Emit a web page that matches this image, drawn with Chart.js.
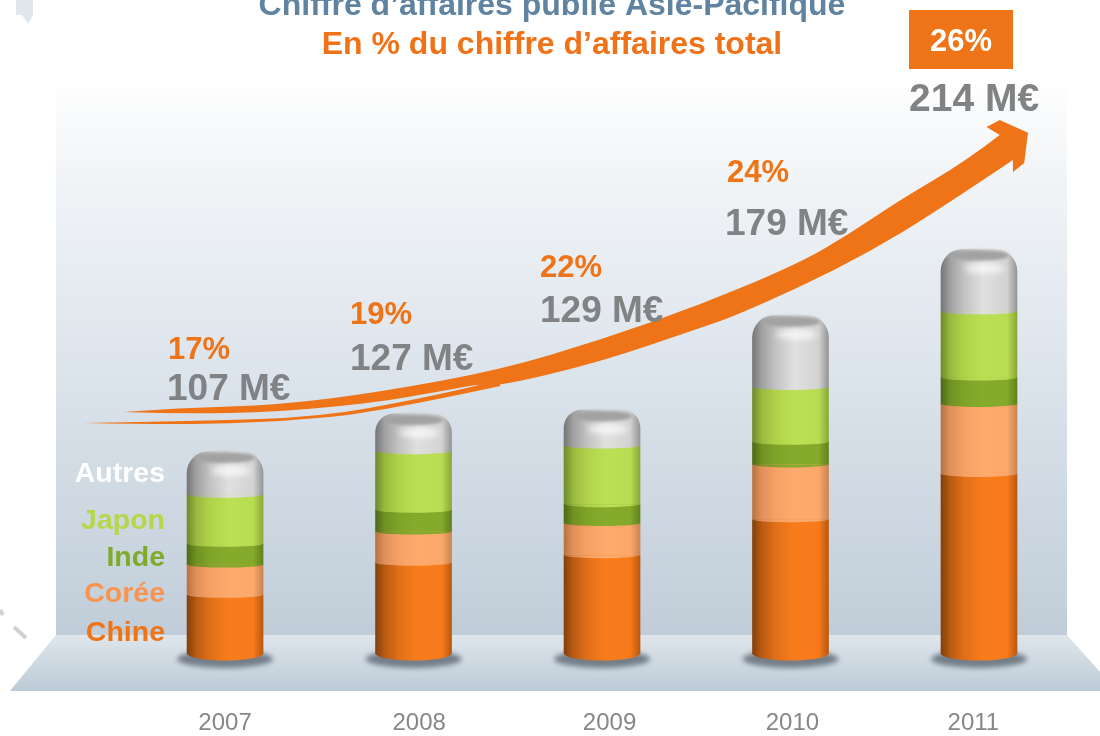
<!DOCTYPE html>
<html lang="fr">
<head>
<meta charset="utf-8">
<title>Chiffre d'affaires publié Asie-Pacifique</title>
<script src="https://cdn.jsdelivr.net/npm/chart.js@4"></script>
<style>
    html, body { margin: 0; padding: 0; background: #fff; overflow: hidden; }
    canvas { display: block; }
</style>
</head>
<body>
<canvas id="chart" width="1100" height="736"></canvas>
<script>
// Valeurs (M€)
const years = [2007, 2008, 2009, 2010, 2011];
const chine = [31, 48, 52, 71, 95];
const coree = [16, 16.5, 17, 29, 37];
const inde = [11, 11.5, 10, 12, 14];
const japon = [26, 31, 31, 29, 35];
const autres = [23, 20, 19, 38, 33];

const percentLabels = ['17%', '19%', '22%', '24%', '26%'];
const totalLabels = ['107 M€', '127 M€', '129 M€', '179 M€', '214 M€'];
const seriesNames = ['Chine', 'Corée', 'Inde', 'Japon', 'Autres'];
const tickYears = [2007, 2008.03, 2009.04, 2010.01, 2010.97];
const tickLabels = ['2007', '2008', '2009', '2010', '2011'];

// Contour de la flèche, en années / M€
const arrowX = [2006.46, 2006.76, 2007.29, 2007.82, 2008.46, 2008.99, 2009.52, 2010.05, 2010.32, 2010.58, 2010.94, 2011.11,
    2011.04, 2011.11, 2011.26, 2011.24, 2011.18, 2011.18,
    2010.76, 2010.41, 2010.05, 2009.69, 2009.52, 2008.99, 2008.46, 2008.35, 2008.18, 2007.82, 2007.29, 2006.76];
const arrowY = [128, 130.2, 131.7, 138.6, 150.3, 166.1, 184.7, 206.9, 222.8, 240.2, 261.4, 274.6,
    278.8, 282.5, 275.7, 259.8, 255, 261.4,
    233.3, 212.2, 194.2, 178.3, 172.5, 154.5, 141.8, 142.9, 139.7, 133.3, 128, 127];
const strandX = [2006.25, 2006.87, 2007.5, 2008, 2008.35, 2008.46, 2008.46, 2007.82, 2007.29, 2006.76];
const strandY = [122.2, 123.3, 125.4, 134.4, 142.3, 145, 141.8, 128, 122.8, 121.2];

const FONT = '"Liberation Sans", Arial, sans-serif';
const ORANGE = '#ee7417';
const GREY = '#808284';
const BAR_WIDTH = 76;

const gradients = {
    Chine: ['#84400b', '#b85a12', '#e06f18', '#f97c1c', '#f77a1b', '#b9590f'],
    'Corée': ['#b8733e', '#e0905a', '#f6a065', '#fdaa6d', '#fca86a', '#cb8450'],
    Inde: ['#4e6a16', '#6f9122', '#7fa328', '#86ab2c', '#84a92b', '#62821c'],
    Japon: ['#6f8a2e', '#98b93e', '#b0d24a', '#bbe054', '#b9dd52', '#8aa838'],
    Autres: ['#767676', '#a0a0a0', '#c2c2c2', '#e0e0e0', '#d2d2d2', '#959595']
};

function barFill(name) {
    return function(context) {
        const stops = gradients[name];
        if (context.dataIndex === undefined) return stops[3];
        const chart = context.chart;
        const cx = chart.scales.x.getPixelForValue(years[context.dataIndex]);
        // les échelles ne sont pas encore placées au premier passage
        if (!Number.isFinite(cx)) return stops[3];
        const g = chart.ctx.createLinearGradient(cx - BAR_WIDTH / 2, 0, cx + BAR_WIDTH / 2, 0);
        [0, 0.12, 0.3, 0.55, 0.87, 1].forEach((p, i) => g.addColorStop(p, stops[i]));
        return g;
    };
}

function barDataset(name, values) {
    return {
        type: 'bar',
        label: name,
        stack: 'total',
        data: values.map((v, i) => ({ x: years[i], y: v })),
        backgroundColor: barFill(name),
        borderWidth: 0,
        barThickness: BAR_WIDTH,
        borderRadius: name === 'Autres' ? { topLeft: 22, topRight: 22, bottomLeft: 0, bottomRight: 0 } : 0,
        order: 2
    };
}

// sharp : indices des points anguleux du contour
function outlineDataset(name, xs, ys, sharp) {
    return {
        type: 'line',
        label: name,
        data: xs.map((x, i) => ({ x: x, y: ys[i] })),
        sharp: sharp,
        borderColor: ORANGE,
        borderWidth: 0,
        pointRadius: 0,
        fill: false,
        clip: false,
        order: 1
    };
}

// Fond : mur et sol
const backdropPlugin = {
    id: 'backdrop',
    beforeDraw(chart) {
        const ctx = chart.ctx;
        ctx.save();
        ctx.fillStyle = '#fff';
        ctx.fillRect(0, 0, 1100, 736);

        const wall = ctx.createLinearGradient(0, 75, 0, 636);
        wall.addColorStop(0, '#ffffff');
        wall.addColorStop(0.2, '#f0f3f6');
        wall.addColorStop(0.55, '#dbe3eb');
        wall.addColorStop(1, '#c0cdd8');
        ctx.fillStyle = wall;
        ctx.fillRect(56, 75, 1011, 561);

        const floor = ctx.createLinearGradient(0, 635, 0, 691);
        floor.addColorStop(0, '#dfe6ec');
        floor.addColorStop(1, '#bccad6');
        ctx.fillStyle = floor;
        ctx.beginPath();
        ctx.moveTo(56, 635);
        ctx.lineTo(1067, 635);
        ctx.lineTo(1100, 672);
        ctx.lineTo(1100, 691);
        ctx.lineTo(10, 691);
        ctx.closePath();
        ctx.fill();

        // restes du décor sur la gauche
        ctx.fillStyle = '#dfe6ec';
        ctx.fillRect(16, 0, 17, 15);
        ctx.beginPath();
        ctx.moveTo(22, 15);
        ctx.lineTo(33, 15);
        ctx.lineTo(28, 24);
        ctx.closePath();
        ctx.fill();
        ctx.strokeStyle = '#cfd2d5';
        ctx.lineWidth = 4;
        ctx.beginPath();
        ctx.moveTo(14, 627);
        ctx.lineTo(26, 638);
        ctx.moveTo(0, 610);
        ctx.lineTo(3, 615);
        ctx.stroke();

        // ombres au pied des colonnes
        ctx.filter = 'blur(2.5px)';
        ctx.fillStyle = '#737e89';
        years.forEach(y => {
            const cx = chart.scales.x.getPixelForValue(y);
            ctx.beginPath();
            ctx.ellipse(cx, 659, 48, 9, 0, 0, Math.PI * 2);
            ctx.fill();
        });
        ctx.restore();
    }
};

// Trace un contour lissé à partir des points placés par les échelles
function outlinePath(ctx, points, sharp) {
    const n = points.length;
    ctx.beginPath();
    ctx.moveTo(points[0].x, points[0].y);
    for (let k = 1; k < n; k++) {
        const pt = points[k];
        const next = points[(k + 1) % n];
        const nextIdx = (k + 1) % n;
        if (sharp.includes(k)) {
            if (sharp.includes(k - 1)) ctx.lineTo(pt.x, pt.y);
            continue;
        }
        if (sharp.includes(nextIdx)) {
            ctx.quadraticCurveTo(pt.x, pt.y, next.x, next.y);
        } else {
            ctx.quadraticCurveTo(pt.x, pt.y, (pt.x + next.x) / 2, (pt.y + next.y) / 2);
        }
    }
    ctx.closePath();
}

// Remplit les contours de la flèche et arrondit les colonnes
const shapesPlugin = {
    id: 'shapes',
    afterDatasetsDraw(chart) {
        const ctx = chart.ctx;
        ctx.save();
        chart.data.datasets.forEach((ds, i) => {
            const meta = chart.getDatasetMeta(i);
            if (ds.type === 'line') {
                ctx.fillStyle = ORANGE;
                outlinePath(ctx, meta.data, ds.sharp);
                ctx.fill();
            } else {
                // bas de chaque tronçon légèrement bombé
                const depth = ds.label === 'Chine' ? 7 : 3;
                meta.data.forEach(bar => {
                    ctx.fillStyle = bar.options.backgroundColor;
                    ctx.beginPath();
                    ctx.ellipse(bar.x, bar.base - 0.5, bar.width / 2, depth, 0, 0, Math.PI);
                    ctx.fill();
                });
            }
        });

        // dôme en haut des colonnes : arc sombre puis reflet clair
        const top = chart.data.datasets.findIndex(d => d.label === 'Autres');
        chart.getDatasetMeta(top).data.forEach(bar => {
            ctx.filter = 'blur(1.5px)';
            ctx.fillStyle = '#a2a2a2';
            ctx.beginPath();
            ctx.ellipse(bar.x, bar.y + 6, bar.width / 2 - 8, 5.5, 0, 0, Math.PI * 2);
            ctx.fill();
            ctx.filter = 'blur(3px)';
            ctx.fillStyle = 'rgba(250,250,250,0.85)';
            ctx.beginPath();
            ctx.ellipse(bar.x + 6, bar.y + 19, 20, 4.5, 0, 0, Math.PI * 2);
            ctx.fill();
            ctx.filter = 'none';
        });
        ctx.restore();
    }
};

function putText(ctx, text, x, y, size, color, align) {
    ctx.font = 'bold ' + size + 'px ' + FONT;
    ctx.fillStyle = color;
    ctx.textAlign = align || 'left';
    ctx.textBaseline = 'alphabetic';
    ctx.fillText(text, x, y);
}

const labelsPlugin = {
    id: 'labels',
    afterDraw(chart) {
        const ctx = chart.ctx;
        ctx.save();

        putText(ctx, 'Chiffre d’affaires publié Asie-Pacifique', 552, 15, 32, '#5f83a0', 'center');
        putText(ctx, 'En % du chiffre d’affaires total', 552, 54, 32, '#ef7219', 'center');

        // pourcentages et totaux au-dessus de la flèche
        const pctPos = [[168, 359], [350, 324], [540, 277], [727, 182]];
        const totalPos = [[167, 400], [350, 370], [540, 322], [725, 235]];
        pctPos.forEach((p, i) => putText(ctx, percentLabels[i], p[0], p[1], 31, ORANGE));
        totalPos.forEach((p, i) => putText(ctx, totalLabels[i], p[0], p[1], 37, GREY));

        ctx.fillStyle = ORANGE;
        ctx.fillRect(909, 10, 104, 59);
        putText(ctx, percentLabels[4], 961, 51, 31, '#fff', 'center');
        putText(ctx, totalLabels[4], 909, 111, 39, GREY);

        // légende à gauche de la première colonne
        const legendColors = ['#ee7416', '#f89450', '#7faa2a', '#b4d848', '#ffffff'];
        const legendY = [641, 602, 566, 529, 482];
        seriesNames.forEach((name, i) => putText(ctx, name, 165, legendY[i], 28.5, legendColors[i], 'right'));
        ctx.restore();
    }
};

new Chart(document.getElementById('chart'), {
    data: {
        datasets: [
            barDataset('Chine', chine),
            barDataset('Corée', coree),
            barDataset('Inde', inde),
            barDataset('Japon', japon),
            barDataset('Autres', autres),
            outlineDataset('Flèche', arrowX, arrowY, [0, 11, 12, 13, 14, 15, 16, 17]),
            outlineDataset('Trait', strandX, strandY, [0, 5, 6])
        ]
    },
    options: {
        responsive: false,
        animation: false,
        layout: { padding: 0 },
        plugins: {
            legend: { display: false },
            tooltip: { enabled: false },
            title: { display: false }
        },
        scales: {
            x: {
                type: 'linear',
                offset: false,
                min: 2005.806,
                max: 2011.642,
                grid: { display: false, drawTicks: false },
                border: { display: false },
                afterBuildTicks(scale) {
                    scale.ticks = tickYears.map(v => ({ value: v }));
                },
                afterFit(scale) {
                    scale.height = 34.8;
                },
                ticks: {
                    padding: 8,
                    maxRotation: 0,
                    autoSkip: false,
                    color: '#878787',
                    font: { family: FONT, size: 24 },
                    callback: (value, index) => tickLabels[index]
                }
            },
            y: {
                display: false,
                min: -25,
                max: 346
            }
        }
    },
    plugins: [backdropPlugin, shapesPlugin, labelsPlugin]
});
</script>
</body>
</html>
